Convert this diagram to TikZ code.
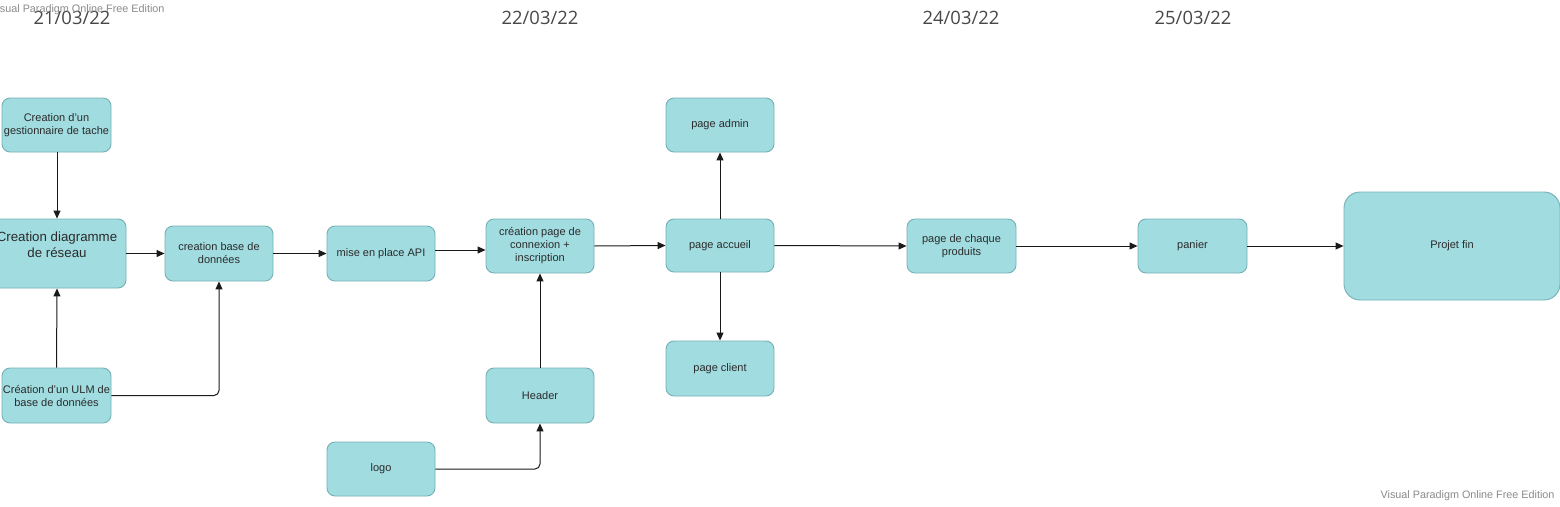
\documentclass[tikz,border=0pt]{standalone}
\usepackage{fontspec}
\setmainfont{Liberation Sans}
\newfontfamily\datefont{Open Sans}
\usetikzlibrary{arrows.meta}
\definecolor{boxfill}{HTML}{A1DCE0}
\definecolor{boxline}{HTML}{74B0B4}
\definecolor{txt}{HTML}{2B2B2B}
\definecolor{wm}{HTML}{8A8A8A}
\begin{document}
\begin{tikzpicture}[x=1pt,y=-1pt,
  box/.style={draw=boxline,fill=boxfill,line width=0.9pt,rounded corners=8pt,
    minimum width=108pt,minimum height=54pt,inner sep=0pt,align=center,
    text=txt,font=\fontsize{11}{13}\selectfont},
  arr/.style={draw=black!90,line width=1pt,-{Triangle[length=8pt,width=7pt]}},
  datelbl/.style={font=\datefont\fontsize{18.4}{21}\selectfont,text=black!72},
  wmark/.style={font=\fontsize{10.8}{12}\selectfont,text=wm}]
\useasboundingbox (0,0) rectangle (1560,506);

% dates
\node[datelbl] (d1) at (72,18) {21/03/22};
\node[datelbl] (d2) at (540,18) {22/03/22};
\node[datelbl] (d3) at (961,18) {24/03/22};
\node[datelbl] (d4) at (1193,18) {25/03/22};

% watermarks
\node[wmark,anchor=east] (wm1) at (168,10) {Visual Paradigm Online Free Edition};
\node[wmark,anchor=east] (wm2) at (1558,496) {Visual Paradigm Online Free Edition};

% boxes
\node[box,minimum width=109pt] (A) at (56.5,125) {Creation d'un\\gestionnaire de tache};
\node[box,minimum width=138pt,minimum height=69pt] (B) at (57,253.5) {};
\node[text=txt,align=center,font=\fontsize{13.3}{16}\selectfont] (Bt) at (57,245) {Creation diagramme\\de réseau};
\node[box,minimum height=55pt] (C) at (219,253.5) {creation base de\\données};
\node[box,minimum height=55pt] (D) at (381,253.5) {mise en place API};
\node[box] (E) at (540,246) {création page de\\connexion +\\inscription};
\node[box,minimum height=53pt] (F) at (720,245.5) {page accueil};
\node[box] (G) at (720,125) {page admin};
\node[box,minimum height=55pt] (H) at (720,368.5) {page client};
\node[box,minimum width=109pt] (I) at (961.5,246) {page de chaque\\produits};
\node[box,minimum width=109pt] (J) at (1192.5,246) {panier};
\node[box,minimum width=216pt,minimum height=108pt,rounded corners=16pt] (K) at (1452,246) {Projet fin};
\node[box,minimum width=109pt,minimum height=55pt] (L) at (56.5,395.5) {Création d'un ULM de\\base de données};
\node[box,minimum height=55pt] (M) at (540,395.5) {Header};
\node[box] (N) at (381,469) {logo};

% connectors
\draw[arr] (A.south) -- (B.south |- A.south) -- (B.north);
\draw[arr] (L.north) -- (B.south);
\draw[arr] (B.east) -- (C.west);
\draw[arr,rounded corners=5pt] (L.east) -| (C.south);
\draw[arr] (C.east) -- (D.west);
\draw[arr] ([yshift=3.5pt]D.east) -- ([yshift=-4pt]E.west);
\draw[arr] (E.east) -- (F.west);
\draw[arr] (F.north) -- (G.south);
\draw[arr] (F.south) -- (H.north);
\draw[arr] (F.east) -- (I.west);
\draw[arr] (I.east) -- (J.west);
\draw[arr] (J.east) -- (K.west);
\draw[arr] (M.north) -- (E.south);
\draw[arr,rounded corners=5pt] (N.east) -| (M.south);
\end{tikzpicture}
\end{document}
